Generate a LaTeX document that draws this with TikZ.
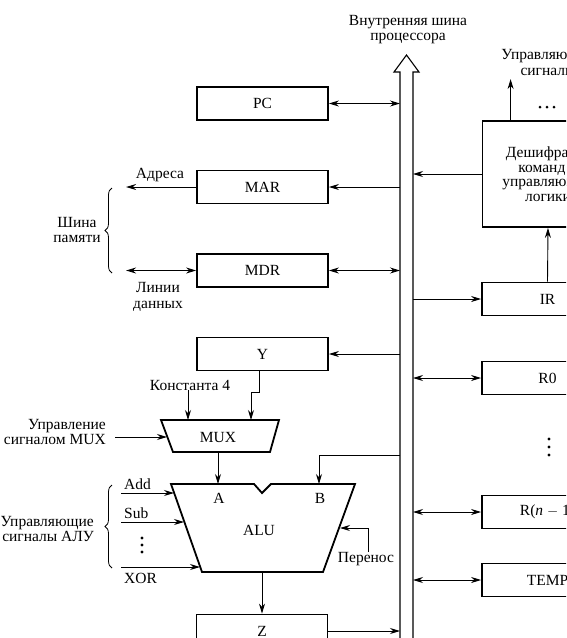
\documentclass[tikz,border=0pt]{standalone}
\usepackage{fontspec}
\setmainfont{Liberation Serif}
\usetikzlibrary{arrows.meta,decorations.pathreplacing,calc}
\begin{document}
\begin{tikzpicture}[x=1pt,y=-1pt,
  every node/.style={font=\fontsize{15.5}{15.5}\selectfont, inner sep=0pt},
  reg/.style={draw, line width=1.8pt, minimum width=131pt, minimum height=33pt},
  wire/.style={line width=0.9pt},
  unit/.style={line width=1.8pt, line join=miter},
  brc/.style={decorate, decoration={brace, amplitude=7pt}, line width=0.8pt},
  >={Stealth[length=10pt,width=6pt]}]
\useasboundingbox (0,0) rectangle (566,638);
\clip (0,0) rectangle (566,638);

% internal processor bus (double-line arrow)
\coordinate (busL) at (400,0);
\coordinate (busR) at (413,0);
\draw[line width=1.1pt] (400,645) -- (400,72) -- (394,72) -- (406.5,55) -- (419,72) -- (413,72) -- (413,645);
\node[align=center] (buslbl) at (408,29.5) {Внутренняя шина\\процессора};

% registers on the left of the bus
\node[reg] (PC)  at (262.5,103.5) {PC};
\node[reg] (MAR) at (262.5,187)   {MAR};
\node[reg] (MDR) at (262.5,270.5) {MDR};
\node[reg] (Y)   at (262.5,354)   {Y};
\node[reg] (Z)   at (262,631)     {Z};

% registers and control unit on the right of the bus
\node[reg] (IR)   at (547.5,299) {IR};
\node[reg] (R0)   at (547.5,378) {R0};
\node[reg] (Rn)   at (547.5,512) {R(\textit{n}~$-$~1)};
\node[reg] (TEMP) at (547.5,580) {TEMP};
\node[reg, minimum height=106pt, align=center, font=\fontsize{15.5}{14.5}\selectfont] (DEC) at (548,174)
  {Дешифратор\\команд и\\управляющей\\логики};
\node[align=center] (ctlsig) at (548,62.5) {Управляющие\\сигналы};
\foreach \xx in {540,547,554} \fill (\xx,107) circle (1.5);

% bus connections
\draw[wire,<->] (PC.east) -- (PC.east -| busL);
\draw[wire,->] (MAR.east -| busL) -- (MAR.east);
\draw[wire,<->] (MDR.east) -- (MDR.east -| busL);
\draw[wire,->] (Y.east -| busL) -- (Y.east);
\draw[wire,->] (Z.east) -- (Z.east -| busL);
\draw[wire,->] (IR.west -| busR) -- (IR.west);
\draw[wire,<->] (R0.west) -- (R0.west -| busR);
\draw[wire,<->] (Rn.west) -- (Rn.west -| busR);
\draw[wire,<->] (TEMP.west) -- (TEMP.west -| busR);
\draw[wire,->] (DEC.west) -- (DEC.west -| busR);
\draw[wire,->] (IR.north) -- (DEC.south);
\draw[wire,->] ([xshift=29pt]DEC.north west) -- ++(0,-41);

% memory bus
\draw[wire,->] (MAR.west) -- ++(-70,0) coordinate (addrEnd);
\draw[wire,<->] (MDR.west) -- ++(-70,0) coordinate (dataEnd);
\node (addr) at (160,175) {Адреса};
\node[align=center] (data) at (158,297) {Линии\\данных};
\draw[brc] (112,273) -- (112,188);
\node[align=center] (membus) at (77,230) {Шина\\памяти};

% multiplexer
\draw[unit] (161,420) -- (279,420) -- (270,452) -- (173,452) -- cycle;
\node (MUX) at (218,437) {MUX};
\coordinate (muxY) at (251,420);
\coordinate (muxK) at (188,420);
\coordinate (muxL) at (167,437);
\coordinate (muxOut) at (218,452);
\node (K4) at (190,385) {Константа 4};
\draw[wire,->] (K4.south -| muxK) -- (muxK);
\draw[wire,->] ([xshift=-3.5pt]Y.south) -- ++(0,21) -| (muxY);
\node[align=right, anchor=east] (muxctl) at (106,432) {Управление\\сигналом MUX};
\coordinate (muxCtlStart) at (115,437);
\draw[wire,->] (muxCtlStart) -- (muxL);

% arithmetic and logic unit
\draw[unit] (171,484) -- (254,484) -- (262,493) -- (271,484) -- (355,484)
  -- (323,572) -- (202,572) -- cycle;
\node (ALU) at (259,530) {ALU};
\node (A) at (219,498) {A};
\node (B) at (320,498) {B};
\coordinate (aIn) at (218,484);
\coordinate (bIn) at (319,484);
\coordinate (busB) at (400,455);
\coordinate (aluOut) at (262,572);
\draw[wire,->] (muxOut) -- (aIn);
\draw[wire,->] (busB) -| (bIn);
\draw[wire,->] (aluOut) -- (Z.north);

% carry input
\node (carry) at (366,559) {Перенос};
\coordinate (carryX) at (368,528);
\coordinate (aluR) at (340,528);
\draw[wire,->] (carry.north -| carryX) -- (carryX) -- (aluR);

% ALU control signals
\coordinate (addIn) at (174,493);
\coordinate (subIn) at (184,522);
\coordinate (xorIn) at (200,567);
\draw[wire,->] (121,493) -- (addIn);
\draw[wire,->] (121,522) -- (subIn);
\draw[wire,->] (121,567) -- (xorIn);
\node[anchor=west] (add) at (124,484) {Add};
\node[anchor=west] (sub) at (124,513) {Sub};
\node[anchor=west] (xor) at (124,578) {XOR};
\foreach \yy in {538,545,552} \fill (142,\yy) circle (1.6);
\draw[brc] (112,568) -- (112,485);
\node[align=right, anchor=east] (alusig) at (94,529) {Управляющие\\сигналы АЛУ};

% general-purpose registers ellipsis
\foreach \yy in {439,447,455} \fill (549,\yy) circle (1.6);
\end{tikzpicture}
\end{document}
